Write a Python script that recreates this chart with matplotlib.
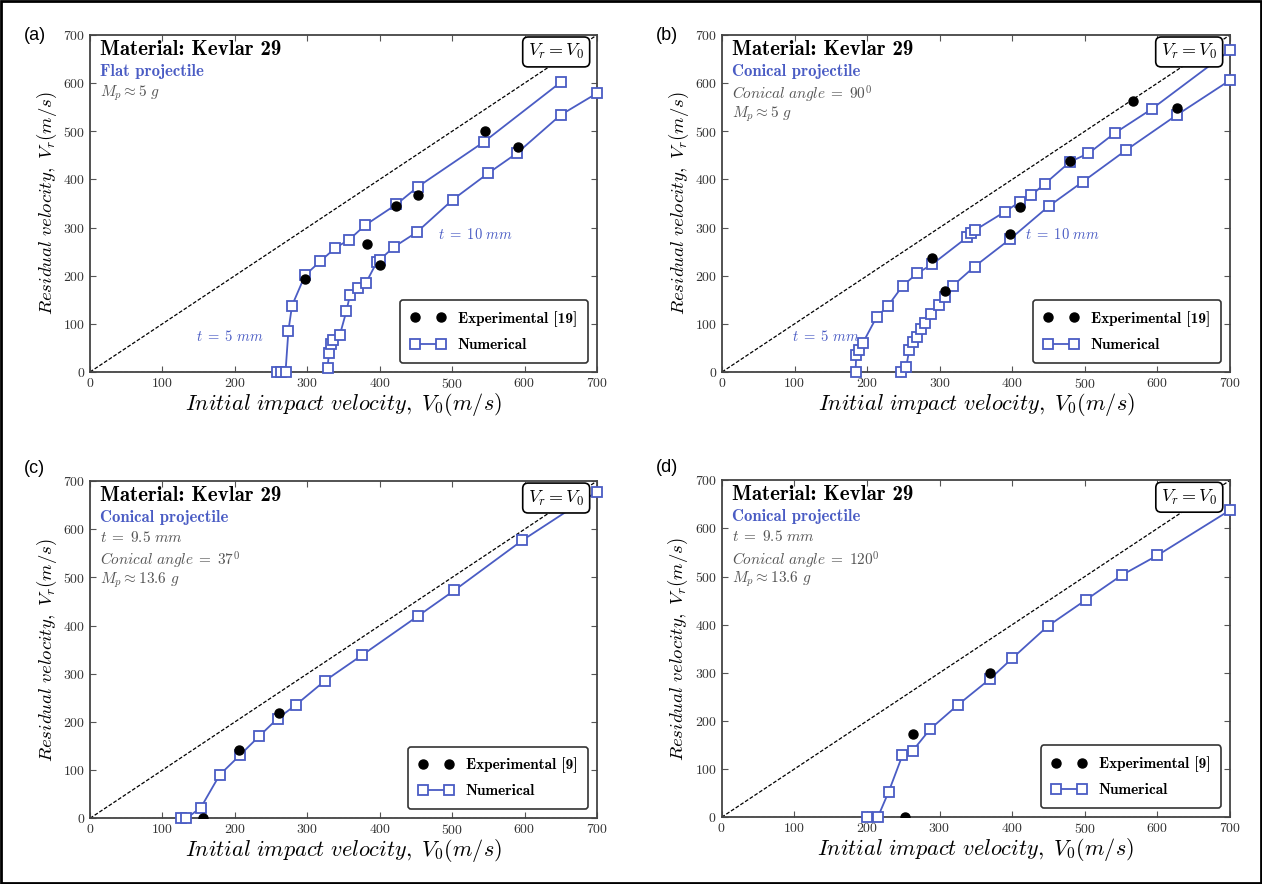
import matplotlib
matplotlib.use("Agg")
import matplotlib.pyplot as plt
from matplotlib.patches import Rectangle

plt.rcParams['font.family'] = 'serif'
plt.rcParams['font.serif'] = ['cmr10']
plt.rcParams['mathtext.fontset'] = 'cm'
plt.rcParams['axes.formatter.use_mathtext'] = True

BLUE = '#4a5cc4'
GRAY = '#555555'

# ---- data ----
# (a) flat projectile
a_v0_5 = [258, 264, 270, 274, 279, 297, 318, 339, 358, 380, 423, 453, 544, 651]
a_vr_5 = [0, 0, 0, 86, 138, 201, 230, 258, 275, 305, 348, 385, 478, 603]
a_v0_10 = [328, 330, 333, 336, 345, 354, 359, 370, 381, 396, 400, 420, 451, 501, 550, 590, 650, 700]
a_vr_10 = [8, 40, 58, 66, 77, 126, 160, 174, 185, 228, 233, 260, 290, 358, 413, 455, 534, 579]
a_exp_v0 = [297, 382, 400, 423, 453, 545, 591]
a_exp_vr = [194, 266, 222, 345, 368, 501, 467]

# (b) conical 90 deg
b_v0_5 = [184, 185, 189, 194, 213, 229, 249, 269, 290, 338, 343, 348, 390, 411, 426,
          445, 480, 505, 541, 592, 700]
b_vr_5 = [0, 35, 46, 60, 114, 138, 179, 205, 224, 280, 288, 294, 333, 354, 367,
          391, 437, 454, 496, 546, 668]
b_v0_10 = [247, 254, 258, 263, 269, 274, 280, 288, 299, 307, 318, 348, 397, 450, 497, 557, 627, 700]
b_vr_10 = [0, 11, 46, 63, 73, 89, 101, 120, 139, 155, 179, 219, 276, 344, 395, 461, 534, 606]
b_exp_v0 = [290, 307, 397, 411, 480, 567, 627]
b_exp_vr = [236, 169, 287, 343, 439, 562, 549]

# (c) conical 37 deg
c_v0 = [125, 133, 153, 179, 207, 234, 259, 284, 324, 376, 453, 503, 597, 700]
c_vr = [0, 0, 22, 90, 131, 171, 207, 235, 285, 339, 420, 473, 577, 678]
c_exp_v0 = [156, 206, 261]
c_exp_vr = [0, 142, 219]

# (d) conical 120 deg
d_v0 = [200, 215, 230, 249, 263, 287, 325, 370, 400, 449, 501, 551, 600, 700]
d_vr = [0, 0, 53, 129, 138, 183, 233, 288, 330, 397, 451, 503, 544, 638]
d_exp_v0 = [252, 263, 370]
d_exp_vr = [0, 173, 300]

ticks = [0, 100, 200, 300, 400, 500, 600, 700]

panels = [
    dict(tag='(a)', pos=[0.0713, 0.5792, 0.4017, 0.3812], tag_dy=0.0,
         num=[(a_v0_5, a_vr_5), (a_v0_10, a_vr_10)], exp=(a_exp_v0, a_exp_vr),
         ref='Experimental [19]', proj='Flat projectile',
         info=[r'$M_p \approx 5\ g$'],
         notes=[(147, 73, r'$t\;=\;5\ mm$'), (480, 285, r'$t\;=\;10\ mm$')]),
    dict(tag='(b)', pos=[0.5721, 0.5792, 0.4025, 0.3812], tag_dy=0.0,
         num=[(b_v0_5, b_vr_5), (b_v0_10, b_vr_10)], exp=(b_exp_v0, b_exp_vr),
         ref='Experimental [19]', proj='Conical projectile',
         info=[r'$Conical\ angle\;=\;90^0$', r'$M_p \approx 5\ g$'],
         notes=[(97, 73, r'$t\;=\;5\ mm$'), (418, 285, r'$t\;=\;10\ mm$')]),
    dict(tag='(c)', pos=[0.0713, 0.0743, 0.4017, 0.3815], tag_dy=0.014,
         num=[(c_v0, c_vr)], exp=(c_exp_v0, c_exp_vr),
         ref='Experimental [9]', proj='Conical projectile',
         info=[r'$t\;=\;9.5\ mm$', r'$Conical\ angle\;=\;37^0$', r'$M_p \approx 13.6\ g$'],
         notes=[]),
    dict(tag='(d)', pos=[0.5718, 0.0755, 0.4029, 0.3812], tag_dy=0.014,
         num=[(d_v0, d_vr)], exp=(d_exp_v0, d_exp_vr),
         ref='Experimental [9]', proj='Conical projectile',
         info=[r'$t\;=\;9.5\ mm$', r'$Conical\ angle\;=\;120^0$', r'$M_p \approx 13.6\ g$'],
         notes=[]),
]

fig = plt.figure(figsize=(12.62, 8.84), dpi=100)
fig.patches.append(Rectangle((0.001, 0.001), 0.998, 0.998, transform=fig.transFigure,
                             fill=False, ec='black', lw=2))

for p in panels:
    ax = fig.add_axes(p['pos'])
    ax.plot(ticks, ticks, color='black', lw=0.9, ls=(0, (3, 1.5)))
    ax.plot([0, 700], [0, 0], color='black', lw=0.9, ls=(0, (3, 1.5)))
    exp_h, = ax.plot(p['exp'][0], p['exp'][1], 'o', color='black', ms=6.5,
                     label=p['ref'], zorder=4)
    for v0, vr in p['num']:
        num_h, = ax.plot(v0, vr, '-s', color=BLUE, mfc='white', mec=BLUE, mew=1.3,
                         ms=7, lw=1.3, label='Numerical', zorder=3, clip_on=False)
    ax.set_xlim(0, 700)
    ax.set_ylim(0, 700)
    ax.set_xticks(ticks)
    ax.set_yticks(ticks)
    ax.tick_params(direction='in', top=True, right=True, labelsize=10,
                   colors=GRAY, labelcolor='#333333', length=4)
    for s in ax.spines.values():
        s.set_color('#444444')
        s.set_linewidth(1.3)
    ax.set_xlabel(r'$Initial\ impact\ velocity,\ V_0(m/s)$', fontsize=16, labelpad=0)
    ax.set_ylabel(r'$Residual\ velocity,\ V_r(m/s)$', fontsize=13.5, labelpad=3)

    ax.text(0.02, 0.985, 'Material: Kevlar 29', transform=ax.transAxes, ha='left',
            va='top', fontsize=15, family='cmb10')
    ax.text(0.02, 0.915, p['proj'], transform=ax.transAxes, ha='left', va='top',
            fontsize=12, family='cmb10', color=BLUE)
    y = 0.855
    for line in p['info']:
        ax.text(0.02, y, line, transform=ax.transAxes, ha='left', va='top',
                fontsize=11, color=GRAY)
        y -= 0.06
    ax.text(0.975, 0.978, r'$V_r = V_0$', transform=ax.transAxes, ha='right', va='top',
            fontsize=13, zorder=6,
            bbox=dict(boxstyle='round,pad=0.3', fc='white', ec='black', lw=1.2))
    for x, yv, s in p['notes']:
        ax.text(x, yv, s, ha='left', va='center', fontsize=10.5, color=BLUE)

    leg = ax.legend(handles=[exp_h, num_h], loc='lower right', numpoints=2,
                    handlelength=2.3, borderpad=0.7, labelspacing=0.75,
                    prop=dict(family='cmb10', size=11), borderaxespad=0.6)
    leg.get_frame().set_edgecolor('black')
    leg.get_frame().set_linewidth(1.2)

    bb = p['pos']
    fig.text(bb[0] - 0.052, bb[1] + bb[3] + p['tag_dy'], p['tag'],
             family='Liberation Sans', fontsize=13, ha='left', va='center')

fig.savefig('out.png', dpi=100)
